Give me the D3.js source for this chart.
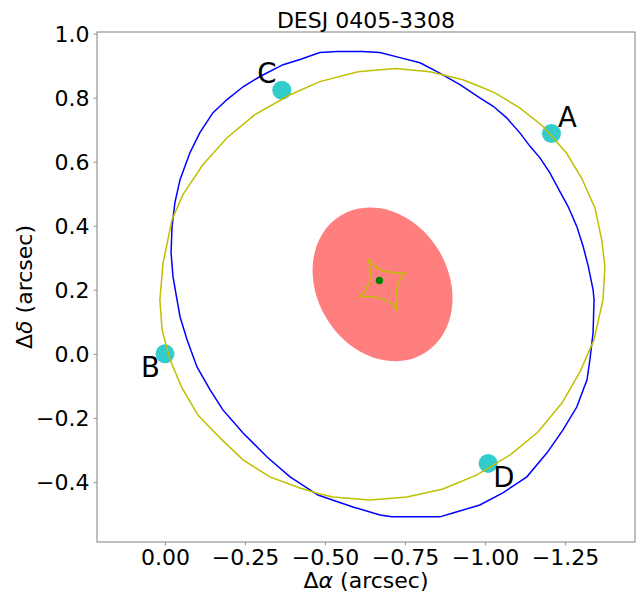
<!DOCTYPE html>
<html>
<head>
<meta charset="utf-8">
<script src="https://cdn.jsdelivr.net/npm/d3@7"></script>
<style>
  body { margin: 0; background: #fff; }
  svg text { font-family: "DejaVu Sans", sans-serif; }
</style>
</head>
<body>
<svg id="lens-plot"></svg>
<script>
// image positions (arcsec)
const imageNames = ["A", "B", "C", "D"];
const imageX = [-1.208, 0.0, -0.365, -1.010];
const imageY = [0.688, 0.0, 0.823, -0.342];

// source position and its uncertainty ellipse
const sourceX = -0.670, sourceY = 0.229;
const errEllipse = { x: -0.680, y: 0.217, a: 0.252, b: 0.205, angle: 58.8 };

// critical curve (blue)
const critX = [-0.616, -0.538, -0.484, -0.422, -0.369, -0.297, -0.244, -0.194, -0.150, -0.109,
  -0.078, -0.047, -0.031, -0.022, -0.019, -0.025, -0.0375, -0.047, -0.069, -0.100,
  -0.141, -0.181, -0.244, -0.319, -0.391, -0.478, -0.5875, -0.672, -0.709, -0.859,
  -0.900, -0.984, -1.056, -1.131, -1.194, -1.244, -1.287, -1.319, -1.328, -1.338,
  -1.341, -1.338, -1.323, -1.307, -1.287, -1.260, -1.234, -1.203, -1.172, -1.141,
  -1.109, -1.068, -1.026, -0.984, -0.922, -0.850, -0.797, -0.734, -0.672];
const critY = [0.944, 0.944, 0.941, 0.919, 0.903, 0.866, 0.834, 0.794, 0.753, 0.691,
  0.628, 0.544, 0.472, 0.397, 0.316, 0.241, 0.169, 0.116, 0.044, -0.041,
  -0.1125, -0.175, -0.247, -0.322, -0.384, -0.441, -0.478, -0.503, -0.509, -0.509,
  -0.497, -0.472, -0.434, -0.384, -0.309, -0.2375, -0.166, -0.081, -0.019, 0.066,
  0.169, 0.200, 0.273, 0.335, 0.398, 0.460, 0.507, 0.565, 0.612, 0.648,
  0.690, 0.737, 0.773, 0.799, 0.841, 0.881, 0.909, 0.925, 0.941];

// model curve (yellow)
const modelX = [-0.603, -0.484, -0.391, -0.281, -0.194, -0.119, -0.056, -0.022, 0.006, 0.016,
  0.009, -0.016, -0.053, -0.103, -0.172, -0.244, -0.328, -0.422, -0.484, -0.525,
  -0.641, -0.756, -0.869, -0.975, -1.078, -1.166, -1.241, -1.297, -1.341, -1.369,
  -1.375, -1.365, -1.344, -1.302, -1.255, -1.182, -1.109, -1.031, -0.984, -0.931, -0.828, -0.719];
const modelY = [0.881, 0.850, 0.809, 0.747, 0.675, 0.591, 0.497, 0.419, 0.284, 0.169,
  0.075, -0.019, -0.106, -0.191, -0.2625, -0.331, -0.384, -0.419, -0.4375, -0.447,
  -0.456, -0.447, -0.422, -0.378, -0.316, -0.244, -0.153, -0.056, 0.044, 0.169,
  0.273, 0.356, 0.455, 0.549, 0.627, 0.710, 0.768, 0.815, 0.835, 0.856, 0.881, 0.891];

// caustic (yellow astroid)
const causticX = [-0.635, -0.656, -0.682, -0.713, -0.750, -0.734, -0.724, -0.721, -0.726,
  -0.708, -0.682, -0.646, -0.609, -0.625, -0.638, -0.643];
const causticY = [0.296, 0.273, 0.259, 0.254, 0.252, 0.231, 0.205, 0.174, 0.135,
  0.158, 0.171, 0.179, 0.179, 0.195, 0.221, 0.2625];

const xTicks = [0, -0.25, -0.5, -0.75, -1.0, -1.25];
const yTicks = [-0.4, -0.2, 0.0, 0.2, 0.4, 0.6, 0.8, 1.0];
const xDomain = [0.2125, -1.469];
const yDomain = [-0.5875, 1.005];

const W = 636, H = 592;
const margin = { top: 32, right: 1, bottom: 50, left: 97 };

const svg = d3.select("#lens-plot")
  .attr("width", W)
  .attr("height", H);

const x = d3.scaleLinear().domain(xDomain).range([margin.left, W - margin.right]);
const y = d3.scaleLinear().domain(yDomain).range([H - margin.bottom, margin.top]);

const line = d3.line().x(d => x(d[0])).y(d => y(d[1]));
const closed = (xs, ys) => { const p = xs.map((v, i) => [v, ys[i]]); p.push(p[0]); return p; };

// error ellipse
const ex = x(errEllipse.x), ey = y(errEllipse.y);
svg.append("ellipse")
  .attr("cx", ex)
  .attr("cy", ey)
  .attr("rx", Math.abs(x(errEllipse.a) - x(0)))
  .attr("ry", Math.abs(y(errEllipse.b) - y(0)))
  .attr("transform", `rotate(${errEllipse.angle},${ex},${ey})`)
  .attr("fill", "#ff7f7f");

// images (under the curves, lines show through them in the original)
svg.append("g")
  .selectAll("circle")
  .data(imageNames)
  .enter()
  .append("circle")
  .attr("cx", (d, i) => x(imageX[i]))
  .attr("cy", (d, i) => y(imageY[i]))
  .attr("r", 9.5)
  .attr("fill", "#33cccc");

// curves
svg.append("path")
  .attr("d", line(closed(critX, critY)))
  .attr("fill", "none")
  .attr("stroke", "#0000ff")
  .attr("stroke-width", 1.5);

svg.append("path")
  .attr("d", line(closed(modelX, modelY)))
  .attr("fill", "none")
  .attr("stroke", "#bfbf00")
  .attr("stroke-width", 1.5);

svg.append("path")
  .attr("d", line(closed(causticX, causticY)))
  .attr("fill", "none")
  .attr("stroke", "#bfbf00")
  .attr("stroke-width", 1.5);

svg.append("circle")
  .attr("cx", x(sourceX))
  .attr("cy", y(sourceY))
  .attr("r", 3.7)
  .attr("fill", "#008000");

// label offsets in px (dx to centre, dy to baseline)
const labelOffset = { A: [16, -7], B: [-14.5, 23], C: [-15, -7.5], D: [15.7, 24] };
svg.append("g")
  .selectAll("text")
  .data(imageNames)
  .enter()
  .append("text")
  .attr("x", (d, i) => x(imageX[i]) + labelOffset[d][0])
  .attr("y", (d, i) => y(imageY[i]) + labelOffset[d][1])
  .attr("text-anchor", "middle")
  .style("font-size", "27.5px")
  .text(d => d);

// axes
const fmtX = d3.format(".2f"), fmtY = d3.format(".1f");
const xAxis = svg.append("g")
  .attr("transform", `translate(0,${H - margin.bottom})`)
  .call(d3.axisBottom(x).tickValues(xTicks).tickFormat(fmtX).tickSize(3.5).tickPadding(4));
const yAxis = svg.append("g")
  .attr("transform", `translate(${margin.left},0)`)
  .call(d3.axisLeft(y).tickValues(yTicks).tickFormat(fmtY).tickSize(3.5).tickPadding(4));

[xAxis, yAxis].forEach(g => {
  g.select(".domain").remove();
  g.selectAll("line").attr("stroke", "#999");
  g.selectAll("text").style("font-size", "22px").attr("fill", "#000");
});
yAxis.selectAll("text").attr("dy", "0.36em");
xAxis.selectAll("text").attr("dy", "0.72em");

// frame
svg.append("rect")
  .attr("x", margin.left)
  .attr("y", margin.top)
  .attr("width", W - margin.right - margin.left)
  .attr("height", H - margin.bottom - margin.top)
  .attr("fill", "none")
  .attr("stroke", "#808080")
  .attr("stroke-width", 1);

// titles
svg.append("text")
  .attr("x", (margin.left + W - margin.right) / 2)
  .attr("y", 28)
  .attr("text-anchor", "middle")
  .style("font-size", "22px")
  .text("DESJ 0405-3308");

const xl = svg.append("text")
  .attr("x", (margin.left + W - margin.right) / 2)
  .attr("y", 588)
  .attr("text-anchor", "middle")
  .style("font-size", "22px");
xl.append("tspan").text("Δ");
xl.append("tspan").style("font-style", "italic").text("α");
xl.append("tspan").text(" (arcsec)");

const yc = (margin.top + H - margin.bottom) / 2;
const yl = svg.append("text")
  .attr("transform", `translate(32,${yc}) rotate(-90)`)
  .attr("text-anchor", "middle")
  .style("font-size", "22px");
yl.append("tspan").text("Δ");
yl.append("tspan").style("font-style", "italic").text("δ");
yl.append("tspan").text(" (arcsec)");
</script>
</body>
</html>
